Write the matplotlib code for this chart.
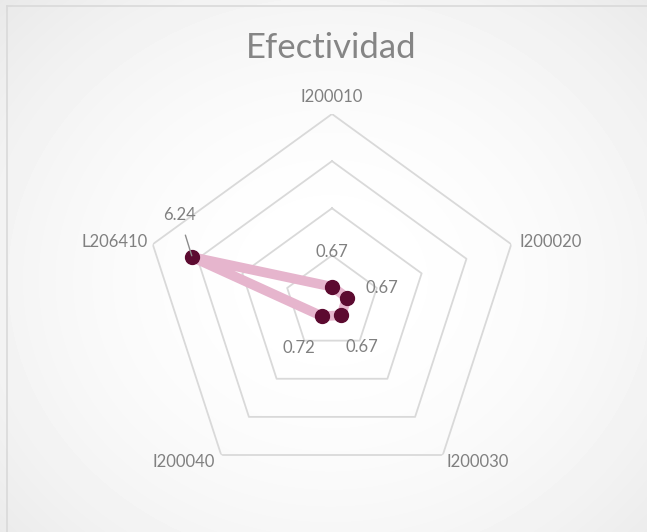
import matplotlib.pyplot as plt
import numpy as np
from matplotlib.lines import Line2D

# data -------------------------------------------------------------
categories = ['I200010', 'I200020', 'I200030', 'I200040', 'L206410']
values = [0.67, 0.67, 0.67, 0.72, 6.24]
value_labels = ['0.67', '0.67', '0.67', '0.72', '6.24']
rings = [2, 4, 6, 8]

plt.rcParams['font.family'] = ['Lato', 'DejaVu Sans']
txt_color = '#808080'
grid_color = '#d9d9d9'

fig = plt.figure(figsize=(6.47, 5.32), dpi=100)

# background with soft radial shading
bg = fig.add_axes([0, 0, 1, 1])
yy, xx = np.mgrid[0:532, 0:647]
d = np.sqrt(((xx - 330) / 330.0) ** 2 + ((yy - 280) / 290.0) ** 2)
shade = 1.0 - 0.045 * np.clip(d, 0, 1.4) ** 2
bg.imshow(shade, cmap='gray', vmin=0, vmax=1, extent=[0, 1, 0, 1], aspect='auto')
bg.set_axis_off()
fig.add_artist(Line2D([6.7 / 647, 1], [1 - 5.7 / 532] * 2, color=grid_color, lw=1.2))
fig.add_artist(Line2D([6.7 / 647] * 2, [0, 1 - 5.7 / 532], color=grid_color, lw=1.2))

# radar axes
ax = fig.add_axes([143.5 / 647, 41 / 532, 377 / 647, 377 / 532], projection='polar')
ax.set_facecolor('none')
ax.set_theta_zero_location('N')
ax.set_theta_direction(-1)
ax.set_ylim(0, 8)
ax.grid(False)
ax.spines['polar'].set_visible(False)
ax.set_xticks([])
ax.set_yticks([])

n = len(categories)
theta = np.arange(n) * 2 * np.pi / n
theta_c = np.append(theta, theta[0])

for r in rings:
    ax.plot(theta_c, [r] * (n + 1), color=grid_color, lw=1.3, zorder=1)

vals_c = values + [values[0]]
ax.plot(theta_c, vals_c, color='#e6b5cd', lw=7, solid_joinstyle='round',
        solid_capstyle='round', zorder=2)
ax.plot(theta, values, 'o', color='#5c0a30', ms=10, zorder=3)

# category labels
cat_offsets = [(0, 17, 'center', 'center'), (8, 2, 'left', 'center'),
               (4, -7, 'left', 'center'), (-6, -7, 'right', 'center'),
               (-5, 2, 'right', 'center')]
for t, lab, (dx, dy, ha, va) in zip(theta, categories, cat_offsets):
    ax.annotate(lab, xy=(t, 8), xytext=(dx, dy), textcoords='offset pixels',
                ha=ha, va=va, fontsize=12, color=txt_color,
                annotation_clip=False)

# value labels
val_offsets = [(0, 35), (35, 10), (21, -32), (-23, -32), (-13, 42)]
for i, (t, v, lab) in enumerate(zip(theta, values, value_labels)):
    dx, dy = val_offsets[i]
    if lab == '6.24':
        ax.annotate(lab, xy=(t, v), xytext=(dx, dy), textcoords='offset pixels',
                    ha='center', va='center', fontsize=12, color=txt_color,
                    arrowprops=dict(arrowstyle='-', color='#8c8c8c', lw=1,
                                    shrinkA=7, shrinkB=1),
                    zorder=4)
    else:
        ax.annotate(lab, xy=(t, v), xytext=(dx, dy), textcoords='offset pixels',
                    ha='center', va='center', fontsize=12, color=txt_color,
                    zorder=4)

fig.text(331 / 647, 1 - 48 / 532, 'Efectividad', ha='center', va='center',
         fontsize=25, color='#858585')

fig.savefig('out.png', dpi=100)
